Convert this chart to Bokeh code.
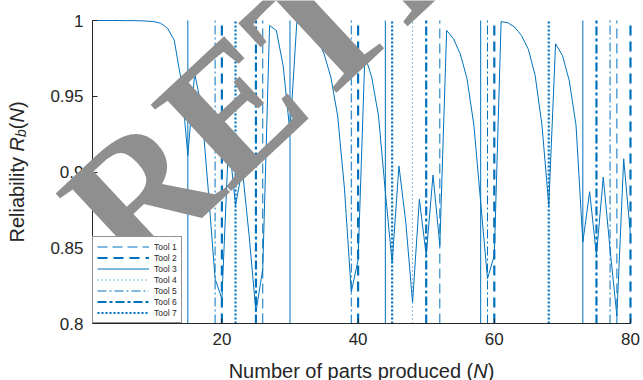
import numpy as np
from bokeh.plotting import figure
from bokeh.models import (Range1d, FixedTicker, CustomJSTickFormatter, Label,
                          Legend, LegendItem, ColumnDataSource)
from bokeh.embed import file_html
from bokeh.resources import INLINE

# ---------------- data ----------------
parts = list(range(1, 81))
reliability = [
    1.0000, 1.0000, 1.0000, 1.0000, 1.0000, 0.9999, 0.9999, 0.9998, 0.9996, 0.9993,  # 1-10
    0.9982, 0.9950, 0.9870, 0.9610, 0.9110, 0.9650, 0.9430, 0.8880, 0.8295, 0.8163,  # 11-20
    0.9220, 0.8780, 0.9020, 0.8580, 0.8075, 0.8360, 0.9967, 0.9934, 0.9700, 0.9260,  # 21-30
    0.9989, 0.9978, 0.9950, 0.9880, 0.9780, 0.9626, 0.9370, 0.8890, 0.8207, 0.8420,  # 31-40
    0.9770, 0.9626, 0.9370, 0.8870, 0.8400, 0.9040, 0.8670, 0.8140, 0.8820, 0.8450,  # 41-50
    0.8980, 0.8515, 0.9934, 0.9880, 0.9780, 0.9615, 0.9310, 0.8800, 0.8295, 0.8450,  # 51-60
    0.9993, 0.9985, 0.9956, 0.9900, 0.9810, 0.9637, 0.9310, 0.8780, 0.9846, 0.9770,  # 61-70
    0.9604, 0.9310, 0.8537, 0.8870, 0.8450, 0.8966, 0.8490, 0.8050, 0.9087, 0.8580,  # 71-80
]

tool_names = ["Tool 1", "Tool 2", "Tool 3", "Tool 4", "Tool 5", "Tool 6", "Tool 7"]
tool1_changes = [26, 52, 78]
tool2_changes = [20, 40, 60, 80]
tool3_changes = [15, 30, 44, 58, 73]
tool4_changes = [48]
tool5_changes = [19, 39, 59, 77]
tool6_changes = [25, 50, 75]
tool7_changes = [22, 45, 68]
tool_changes = [tool1_changes, tool2_changes, tool3_changes, tool4_changes,
                tool5_changes, tool6_changes, tool7_changes]

x_ticks = [20, 40, 60, 80]
y_ticks = [0.8, 0.85, 0.9, 0.95, 1.0]
x_label = "Number of parts produced ("
y_label = "Reliability "
watermark = "RETRACTED"

# ---------------- layout (pixels) ----------------
W_PX, H_PX = 643, 380
AX_L, AX_R, AX_T, AX_B = 92, 630, 20, 323   # where the axes box sits on the canvas

x_lo, x_hi = parts[0], parts[-1]
y_lo, y_hi = y_ticks[0], y_ticks[-1]
sx = (AX_R - AX_L) / (x_hi - x_lo)
sy = (AX_B - AX_T) / (y_hi - y_lo)
x_range = Range1d(x_lo - AX_L / sx, x_hi + (W_PX - AX_R) / sx)
y_range = Range1d(y_lo - (H_PX - AX_B) / sy, y_hi + AX_T / sy)

# ---------------- styles ----------------
BLUE = "#0072BD"
DARK = "#262626"
tool_styles = [
    dict(line_dash="10 5", line_width=1.0),
    dict(line_dash="10 6", line_width=2.2),
    dict(line_dash="solid", line_width=1.0),
    dict(line_dash="1 3", line_width=1.0),
    dict(line_dash="9 3 2 3", line_width=1.0),
    dict(line_dash="9 3 3 3", line_width=2.2),
    dict(line_dash="2 2", line_width=2.2),
]

p = figure(width=W_PX, height=H_PX, output_backend="svg", toolbar_location=None,
           x_range=x_range, y_range=y_range, min_border=0)
p.outline_line_color = None
p.grid.visible = False
p.background_fill_color = "white"
p.border_fill_color = "white"

for ax in (p.xaxis[0], p.yaxis[0]):
    ax.axis_line_color = DARK
    ax.axis_line_width = 1
    ax.major_tick_line_color = DARK
    ax.major_tick_in = 5
    ax.major_tick_out = 0
    ax.minor_tick_line_color = None
    ax.major_label_text_font = "Liberation Sans"
    ax.major_label_text_font_size = "17px"
    ax.major_label_text_color = DARK
p.xaxis.ticker = FixedTicker(ticks=x_ticks)
p.yaxis.ticker = FixedTicker(ticks=y_ticks)
p.yaxis.formatter = CustomJSTickFormatter(code="return String(Math.round(tick*100)/100);")
p.xaxis.major_label_standoff = 9
p.yaxis.major_label_standoff = 9
p.xaxis.fixed_location = y_lo
p.yaxis.fixed_location = x_lo
p.xaxis.bounds = (x_lo, x_hi)
p.yaxis.bounds = (y_lo, y_hi)

# vertical tool-change lines
items = []
for name, xs, st in zip(tool_names, tool_changes, tool_styles):
    src = ColumnDataSource(dict(x=xs, y0=[y_lo] * len(xs), y1=[y_hi] * len(xs)))
    r = p.segment(x0="x", y0="y0", x1="x", y1="y1", source=src, line_color=BLUE,
                  line_cap="butt", **st)
    items.append(LegendItem(label=name, renderers=[r]))

# reliability curve
p.line(parts, reliability, line_color=BLUE, line_width=1.0)

legend = Legend(items=items, location=(AX_L, H_PX - AX_B), margin=0, padding=4, spacing=0,
                glyph_width=52, glyph_height=11, label_height=11, label_standoff=5,
                label_text_font="Liberation Sans", label_text_font_size="8.5px",
                label_text_color=DARK, border_line_color=DARK, border_line_width=1.5,
                background_fill_color="white", background_fill_alpha=1.0)
p.add_layout(legend)

# ---------------- axis labels (mixed styles) ----------------
W = {"R": 722, "e": 556, "l": 222, "i": 222, "a": 556, "b": 556, "t": 278, "y": 500,
     " ": 278, "N": 722, "u": 556, "m": 833, "o": 556, "f": 278, "p": 556, "r": 333,
     "s": 500, "d": 556, "c": 500, "(": 333, ")": 333}


def tw(s, size):
    return sum(W[c] for c in s) * size / 1000.0


FS = 20
# x label
xl_total = tw(x_label, FS) + tw("N", FS) + tw(")", FS)
x0 = (AX_L + AX_R) / 2 - xl_total / 2
by = 10
for txt, style in [(x_label, "normal"), ("N", "italic"), (")", "normal")]:
    p.add_layout(Label(x=x0, y=by, x_units="screen", y_units="screen", text=txt,
                       text_font="Liberation Sans", text_font_size=f"{FS}px",
                       text_font_style=style, text_color=DARK,
                       text_align="left", text_baseline="alphabetic"))
    x0 += tw(txt, FS)

# y label (rotated)
SUB = 14
yl_parts = [(y_label, "normal", FS, 0), ("R", "italic", FS, 0), ("b", "italic", SUB, 4),
            ("(", "normal", FS, 0), ("N", "italic", FS, 0), (")", "normal", FS, 0)]
yl_total = sum(tw(t, s) for t, _, s, _ in yl_parts)
y0 = H_PX - (AX_T + AX_B) / 2 - yl_total / 2
bx = 16
for txt, style, size, shift in yl_parts:
    p.add_layout(Label(x=bx + shift, y=y0, x_units="screen", y_units="screen", text=txt,
                       angle=np.pi / 2, text_font="Liberation Sans",
                       text_font_size=f"{size}px", text_font_style=style,
                       text_color=DARK, text_align="left", text_baseline="alphabetic"))
    y0 += tw(txt, size)

# watermark
wm = Label(x=92, y=143, x_units="screen", y_units="screen", text=watermark,
           angle=np.radians(43), text_font="Liberation Serif", text_font_style="bold",
           text_font_size="180px", text_color="#8f8f8f", text_align="left",
           text_baseline="alphabetic", level="overlay")
p.add_layout(wm)

open("out.html", "w").write(file_html(p, INLINE))
